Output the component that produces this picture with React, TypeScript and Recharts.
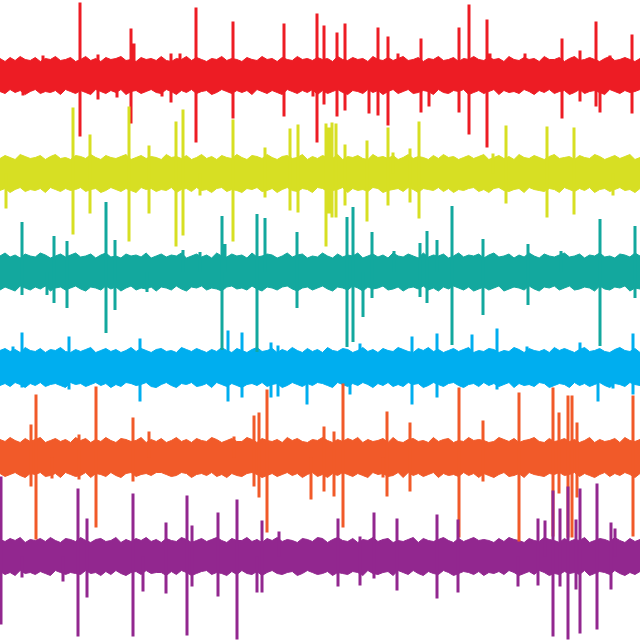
import React from 'react';
import { ComposedChart, Area, Line, XAxis, YAxis } from 'recharts';

// Background noise of each trace: 128 columns across 640 ms, peak above (Hi) and
// trough below (Lo) the baseline, in µV.
const redHi = [
  17, 14, 18, 15, 19, 16, 15, 18, 14, 17, 16, 19, 15, 16, 18, 14,
  16, 19, 15, 17, 14, 18, 16, 17, 19, 15, 16, 14, 18, 16, 17, 15,
  19, 15, 14, 17, 16, 19, 15, 18, 16, 14, 17, 16, 19, 15, 17, 16,
  14, 18, 16, 15, 19, 16, 17, 14, 18, 16, 15, 19, 16, 17, 15, 18,
  16, 17, 14, 19, 16, 15, 18, 16, 17, 14, 19, 16, 15, 18, 15, 17,
  19, 15, 16, 18, 14, 17, 16, 19, 15, 16, 18, 14, 17, 16, 19, 16,
  15, 18, 16, 17, 14, 19, 16, 15, 18, 16, 17, 14, 19, 16, 16, 18,
  14, 17, 19, 15, 16, 18, 16, 14, 17, 19, 15, 16, 18, 16, 14, 17,
];
const redLo = [
  16, 18, 14, 17, 15, 19, 16, 14, 18, 16, 17, 15, 19, 14, 16, 18,
  15, 17, 19, 14, 16, 18, 15, 17, 14, 19, 16, 15, 18, 16, 14, 17,
  18, 14, 16, 19, 15, 17, 14, 18, 16, 15, 19, 17, 14, 16, 18, 15,
  17, 15, 19, 14, 16, 18, 15, 17, 19, 14, 16, 18, 15, 17, 14, 19,
  15, 18, 16, 14, 17, 19, 15, 16, 18, 14, 17, 15, 19, 16, 14, 18,
  16, 14, 18, 17, 15, 16, 19, 14, 17, 18, 15, 16, 14, 19, 17, 15,
  18, 16, 14, 19, 15, 17, 16, 18, 14, 16, 19, 15, 17, 14, 18, 16,
  15, 19, 17, 14, 18, 16, 15, 17, 19, 14, 16, 18, 15, 17, 16, 14,
];
const yellowHi = [
  15, 18, 16, 14, 19, 17, 15, 16, 18, 14, 17, 19, 15, 16, 14, 18,
  17, 15, 19, 16, 14, 18, 16, 15, 17, 19, 14, 16, 18, 15, 17, 16,
  14, 19, 16, 17, 15, 18, 14, 16, 19, 15, 17, 14, 18, 16, 15, 19,
  16, 14, 18, 17, 15, 19, 16, 14, 17, 18, 15, 16, 19, 14, 17, 15,
  18, 16, 15, 19, 14, 17, 16, 18, 15, 14, 19, 16, 17, 15, 18, 14,
  16, 19, 15, 17, 16, 14, 18, 15, 19, 16, 17, 14, 16, 18, 15, 17,
  19, 14, 16, 18, 15, 17, 14, 19, 16, 15, 18, 16, 14, 17, 19, 15,
  16, 17, 14, 18, 16, 15, 19, 17, 14, 16, 18, 15, 17, 19, 14, 16,
];
const yellowLo = [
  17, 15, 19, 16, 14, 18, 16, 17, 15, 19, 14, 16, 18, 15, 17, 16,
  14, 18, 16, 15, 19, 17, 14, 16, 18, 15, 17, 19, 14, 16, 15, 18,
  16, 17, 14, 19, 16, 15, 18, 14, 17, 16, 19, 15, 14, 18, 16, 17,
  19, 15, 16, 14, 18, 17, 15, 19, 16, 14, 17, 18, 15, 16, 19, 14,
  15, 18, 17, 16, 14, 19, 15, 17, 16, 18, 14, 15, 19, 17, 16, 15,
  18, 14, 16, 19, 15, 16, 17, 14, 18, 15, 19, 16, 17, 15, 14, 18,
  16, 19, 15, 14, 17, 18, 16, 15, 19, 14, 16, 17, 18, 15, 16, 19,
  14, 16, 18, 15, 17, 14, 19, 16, 15, 18, 16, 14, 17, 16, 19, 15,
];
const tealHi = [
  16, 19, 15, 17, 14, 18, 16, 15, 19, 17, 14, 16, 18, 15, 17, 19,
  15, 16, 18, 14, 17, 19, 15, 16, 14, 18, 16, 17, 15, 19, 14, 16,
  18, 15, 17, 16, 19, 14, 16, 18, 15, 17, 14, 19, 16, 15, 18, 16,
  17, 14, 19, 15, 16, 18, 17, 14, 16, 19, 15, 17, 18, 14, 16, 15,
  19, 16, 14, 18, 15, 17, 16, 19, 14, 16, 18, 15, 17, 14, 19, 16,
  15, 18, 16, 14, 19, 15, 17, 16, 18, 14, 16, 19, 15, 17, 16, 18,
  14, 17, 19, 15, 16, 18, 14, 17, 15, 19, 16, 14, 18, 16, 15, 17,
  19, 15, 16, 18, 14, 17, 16, 19, 15, 16, 14, 18, 17, 15, 19, 16,
];
const tealLo = [
  18, 15, 17, 19, 14, 16, 18, 15, 17, 14, 19, 16, 15, 18, 16, 14,
  17, 19, 15, 16, 18, 14, 17, 15, 19, 16, 14, 18, 16, 17, 15, 19,
  15, 16, 18, 14, 17, 19, 15, 16, 14, 18, 16, 17, 19, 15, 14, 17,
  16, 18, 14, 17, 19, 15, 16, 18, 15, 14, 17, 19, 16, 15, 18, 16,
  14, 17, 19, 15, 16, 18, 14, 16, 19, 15, 17, 16, 14, 18, 17, 15,
  19, 16, 15, 17, 14, 18, 16, 19, 15, 17, 14, 16, 18, 15, 19, 17,
  15, 18, 16, 14, 19, 17, 15, 16, 18, 14, 17, 19, 15, 16, 14, 18,
  16, 14, 18, 17, 15, 16, 19, 14, 17, 18, 15, 16, 14, 19, 16, 17,
];
const blueHi = [
  17, 19, 16, 18, 15, 20, 17, 16, 19, 15, 18, 17, 20, 16, 15, 18,
  16, 18, 20, 15, 17, 19, 16, 18, 15, 17, 20, 16, 19, 17, 15, 18,
  19, 16, 17, 15, 20, 18, 16, 19, 17, 15, 18, 16, 20, 17, 15, 19,
  17, 15, 18, 20, 16, 17, 19, 15, 18, 16, 20, 17, 15, 19, 16, 18,
  15, 20, 17, 16, 19, 18, 15, 17, 20, 16, 18, 15, 19, 17, 16, 20,
  18, 16, 15, 19, 17, 20, 16, 18, 15, 17, 19, 16, 18, 20, 15, 17,
  16, 19, 18, 15, 17, 16, 20, 18, 15, 19, 17, 16, 18, 15, 20, 17,
  19, 17, 15, 18, 20, 16, 17, 19, 16, 15, 18, 20, 17, 16, 19, 15,
];
const blueLo = [
  18, 16, 19, 15, 17, 20, 16, 18, 15, 19, 17, 16, 18, 20, 15, 17,
  16, 19, 17, 15, 18, 16, 20, 17, 19, 15, 16, 18, 17, 15, 19, 20,
  17, 15, 18, 20, 16, 17, 15, 19, 18, 16, 20, 15, 17, 19, 16, 18,
  20, 17, 16, 18, 15, 19, 17, 16, 20, 18, 15, 17, 19, 16, 18, 15,
  16, 18, 20, 15, 17, 19, 16, 18, 15, 17, 20, 16, 18, 15, 19, 17,
  19, 15, 17, 16, 20, 18, 15, 17, 19, 16, 15, 18, 20, 17, 16, 19,
  15, 18, 16, 19, 17, 15, 20, 16, 18, 17, 19, 15, 16, 20, 18, 16,
  17, 20, 15, 18, 16, 19, 17, 15, 18, 20, 16, 17, 19, 15, 17, 18,
];
const orangeHi = [
  18, 16, 20, 17, 15, 19, 16, 18, 20, 15, 17, 19, 16, 18, 15, 20,
  17, 19, 15, 18, 16, 20, 17, 15, 19, 18, 16, 17, 20, 15, 18, 16,
  19, 15, 17, 20, 16, 18, 15, 19, 17, 16, 20, 18, 15, 17, 19, 16,
  16, 20, 18, 15, 19, 17, 16, 18, 15, 20, 17, 19, 16, 15, 18, 17,
  20, 17, 15, 18, 16, 19, 17, 20, 15, 18, 16, 17, 19, 15, 20, 16,
  15, 18, 19, 16, 17, 15, 20, 16, 18, 19, 15, 17, 16, 20, 17, 18,
  17, 15, 16, 20, 18, 16, 19, 15, 17, 18, 20, 16, 15, 19, 16, 17,
  19, 16, 18, 15, 17, 20, 15, 18, 16, 17, 19, 15, 20, 17, 16, 18,
];
const orangeLo = [
  16, 19, 17, 15, 18, 20, 16, 17, 15, 19, 18, 16, 20, 15, 17, 19,
  18, 15, 20, 16, 17, 19, 15, 18, 20, 16, 15, 19, 17, 16, 18, 15,
  15, 17, 19, 18, 15, 16, 20, 17, 16, 18, 15, 19, 17, 20, 16, 18,
  19, 16, 15, 17, 20, 18, 16, 19, 17, 15, 18, 16, 20, 17, 15, 19,
  17, 20, 16, 18, 15, 17, 19, 16, 18, 20, 15, 17, 16, 19, 18, 15,
  20, 15, 18, 16, 19, 17, 15, 20, 16, 18, 17, 19, 15, 18, 16, 20,
  16, 18, 20, 17, 15, 19, 18, 16, 20, 15, 17, 18, 19, 16, 17, 15,
  18, 17, 15, 19, 16, 18, 20, 17, 15, 19, 16, 18, 15, 17, 20, 16,
];
const purpleHi = [
  17, 15, 18, 16, 19, 14, 17, 16, 18, 15, 19, 16, 14, 18, 17, 15,
  19, 16, 14, 17, 18, 15, 16, 19, 14, 17, 15, 18, 16, 19, 15, 17,
  14, 18, 16, 15, 19, 17, 14, 16, 18, 15, 17, 19, 16, 14, 18, 16,
  16, 19, 15, 17, 14, 18, 16, 19, 15, 17, 16, 14, 18, 17, 15, 19,
  18, 14, 17, 19, 16, 15, 18, 14, 17, 16, 19, 15, 17, 18, 14, 16,
  15, 17, 19, 14, 18, 16, 15, 17, 19, 16, 14, 18, 15, 17, 19, 16,
  17, 16, 14, 18, 15, 19, 17, 16, 14, 18, 16, 15, 19, 17, 16, 14,
  18, 15, 17, 16, 19, 14, 16, 18, 17, 15, 19, 16, 14, 18, 15, 17,
];
const purpleLo = [
  15, 18, 16, 19, 14, 17, 16, 18, 15, 17, 19, 14, 16, 18, 16, 17,
  18, 14, 17, 16, 19, 15, 18, 14, 17, 19, 16, 15, 18, 14, 17, 16,
  16, 19, 15, 18, 14, 16, 19, 17, 15, 14, 18, 16, 17, 19, 15, 18,
  14, 17, 18, 15, 19, 16, 14, 17, 18, 16, 15, 19, 17, 14, 16, 18,
  17, 15, 19, 16, 17, 18, 15, 16, 19, 14, 17, 18, 16, 15, 19, 14,
  16, 18, 14, 17, 19, 15, 17, 18, 14, 16, 19, 17, 15, 16, 18, 15,
  19, 16, 17, 15, 18, 14, 16, 19, 17, 15, 18, 14, 16, 19, 17, 18,
  15, 17, 16, 18, 14, 19, 17, 15, 16, 18, 14, 17, 19, 16, 18, 15,
];

// Spikes: [time (ms), peak above baseline, trough below baseline] in µV
const redSpikes = [
  [23, 0, 20], [43, 20, 0], [80, 73, 61], [98, 21, 24], [117, 0, 22], [131, 47, 48], [134, 32, 0],
  [162, 0, 21], [171, 22, 27], [180, 22, 0], [196, 68, 67], [233, 54, 43], [284, 52, 41],
  [313, 0, 21], [317, 62, 67], [324, 50, 29], [337, 43, 41], [345, 52, 35], [369, 0, 38],
  [378, 48, 40], [388, 39, 50], [398, 22, 0], [421, 37, 37], [429, 0, 31], [459, 48, 37],
  [469, 71, 59], [487, 56, 72], [490, 22, 0], [525, 22, 0], [562, 37, 43], [580, 25, 26],
  [596, 54, 31], [600, 0, 37], [610, 20, 0], [632, 41, 38],
];
const yellowSpikes = [
  [6, 0, 35], [73, 66, 61], [90, 39, 40], [129, 67, 68], [149, 28, 40], [176, 52, 73],
  [183, 64, 62], [200, 0, 22], [233, 54, 68], [265, 26, 24], [290, 45, 37], [298, 49, 39],
  [326, 50, 73], [329, 46, 40], [332, 51, 44], [336, 50, 44], [345, 29, 32], [367, 33, 48],
  [388, 46, 32], [393, 21, 0], [410, 25, 29], [419, 52, 45], [493, 20, 0], [506, 48, 30],
  [547, 47, 44], [574, 46, 41], [613, 0, 22],
];
const tealSpikes = [
  [22, 50, 23], [47, 0, 23], [54, 36, 31], [67, 31, 36], [106, 70, 61], [115, 32, 38],
  [147, 0, 20], [183, 22, 0], [200, 20, 0], [222, 56, 78], [225, 28, 0], [257, 58, 80],
  [265, 54, 0], [297, 40, 36], [347, 55, 75], [353, 65, 70], [363, 0, 45], [372, 40, 26],
  [394, 21, 0], [420, 29, 25], [427, 41, 31], [437, 32, 0], [452, 66, 73], [483, 33, 43],
  [528, 28, 33], [561, 21, 0], [600, 53, 74], [635, 46, 26],
];
const blueSpikes = [
  [13, 21, 0], [22, 35, 20], [69, 31, 22], [140, 29, 34], [228, 37, 34], [242, 35, 30],
  [271, 25, 30], [278, 22, 29], [307, 0, 37], [350, 0, 27], [360, 24, 0], [412, 31, 37],
  [437, 34, 30], [472, 33, 0], [497, 39, 22], [527, 21, 0], [580, 25, 0], [598, 0, 34],
  [613, 0, 21], [633, 34, 27],
];
const orangeSpikes = [
  [31, 33, 29], [36, 63, 82], [52, 0, 21], [79, 23, 22], [96, 71, 70], [133, 40, 24],
  [149, 26, 0], [234, 21, 0], [254, 42, 29], [259, 45, 40], [267, 68, 75], [311, 0, 42],
  [324, 31, 34], [334, 26, 39], [343, 74, 70], [383, 0, 20], [387, 46, 39], [410, 35, 34],
  [459, 70, 80], [483, 37, 24], [519, 65, 84], [553, 70, 79], [559, 45, 36], [568, 62, 80],
  [572, 62, 80], [577, 35, 40], [633, 62, 79],
];
const purpleSpikes = [
  [1, 80, 68], [22, 0, 21], [63, 0, 25], [78, 68, 80], [87, 38, 41], [133, 63, 80],
  [143, 0, 35], [166, 34, 37], [187, 61, 79], [192, 31, 30], [218, 44, 40], [237, 57, 83],
  [257, 0, 36], [262, 36, 36], [279, 25, 0], [338, 38, 30], [360, 20, 29], [374, 44, 22],
  [397, 38, 34], [437, 42, 42], [458, 37, 36], [518, 0, 30], [538, 38, 29], [545, 36, 0],
  [553, 66, 80], [560, 48, 30], [568, 70, 83], [576, 37, 33], [580, 68, 77], [597, 73, 73],
  [611, 34, 33], [615, 28, 0],
];

const DURATION = 640;

// one row per noise column, each trace holding its [trough, peak] range
const data = redHi.map((_, i) => ({
  t: (i * DURATION) / (redHi.length - 1),
  red: [-redLo[i], redHi[i]],
  yellow: [-yellowLo[i], yellowHi[i]],
  teal: [-tealLo[i], tealHi[i]],
  blue: [-blueLo[i], blueHi[i]],
  orange: [-orangeLo[i], orangeHi[i]],
  purple: [-purpleLo[i], purpleHi[i]],
}));

// each spike becomes a vertical stroke from peak to trough; nulls break the path
const spikeSeries = (spikes: number[][]) =>
  spikes.flatMap(([t, up, down]) => [
    { t, v: up },
    { t, v: -down },
    { t, v: null },
  ]);

// every trace has its own hidden axis; the domain sets where its baseline sits
const traces = [
  { key: 'red', color: '#ed1c24', spikes: redSpikes, domain: [-564.5, 75.5] },
  { key: 'yellow', color: '#d7df23', spikes: yellowSpikes, domain: [-466.5, 173.5] },
  { key: 'teal', color: '#13a89e', spikes: tealSpikes, domain: [-368, 272] },
  { key: 'blue', color: '#00aeef', spikes: blueSpikes, domain: [-272.5, 367.5] },
  { key: 'orange', color: '#f15a29', spikes: orangeSpikes, domain: [-182.5, 457.5] },
  { key: 'purple', color: '#92278f', spikes: purpleSpikes, domain: [-83.5, 556.5] },
];

const App: React.FC = () => (
  <div style={{ position: 'absolute', left: 0, top: 0, width: 640, height: 640 }}>
    <ComposedChart width={640} height={640} data={data} margin={{ top: 0, right: 0, bottom: 0, left: 0 }}>
      <XAxis type="number" dataKey="t" domain={[0, DURATION]} allowDataOverflow hide />
      {traces.map(tr => (
        <YAxis key={tr.key} yAxisId={tr.key} type="number" domain={tr.domain} allowDataOverflow hide />
      ))}
      {traces.flatMap(tr => [
        <Area
          key={tr.key + '-noise'}
          yAxisId={tr.key}
          type="linear"
          dataKey={tr.key}
          stroke={tr.color}
          strokeWidth={1}
          fill={tr.color}
          fillOpacity={1}
          dot={false}
          activeDot={false}
          isAnimationActive={false}
        />,
        <Line
          key={tr.key + '-spikes'}
          yAxisId={tr.key}
          data={spikeSeries(tr.spikes)}
          type="linear"
          dataKey="v"
          stroke={tr.color}
          strokeWidth={3}
          dot={false}
          activeDot={false}
          connectNulls={false}
          isAnimationActive={false}
        />,
      ])}
    </ComposedChart>
  </div>
);

export default App;
